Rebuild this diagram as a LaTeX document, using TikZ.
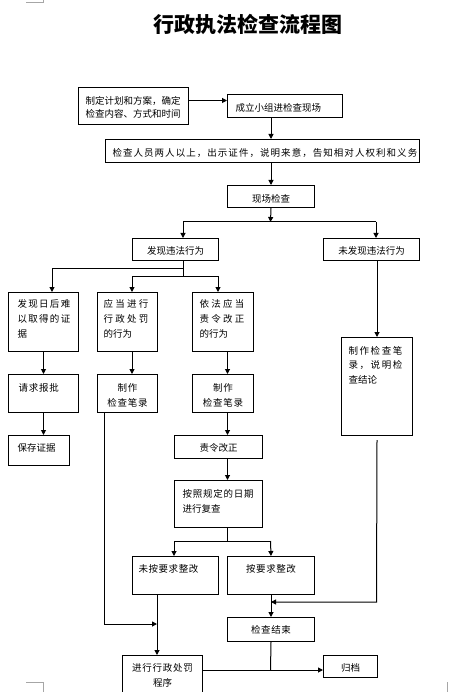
\documentclass[tikz,border=0pt]{standalone}
\usepackage{fontspec}
\setmainfont{Noto Sans CJK SC}
\usetikzlibrary{arrows.meta}
\newcommand\widetxt[2][14]{{\addfontfeatures{LetterSpace=#1}#2}}
\begin{document}
\begin{tikzpicture}[x=1pt,y=-1pt]
        % Styles
        \tikzstyle{box}=[draw,line width=1pt,inner ysep=0pt,anchor=north west,font=\fontsize{9.5}{15}\selectfont]
        \tikzstyle{arr}=[line width=1pt,-{Triangle[length=5pt,width=5pt]}]
        \tikzstyle{line}=[line width=1pt]
        \tikzstyle{pagemark}=[gray!70,line width=0.7pt]
        \useasboundingbox (0,0) rectangle (448,692);
        \clip (0,0) rectangle (448,692);
        %page marks
        \draw[pagemark] (26,2) -- (43,2) -- (43,0);
        \draw[pagemark] (26,682) -- (43,682) -- (43,692);
        \draw[pagemark] (447,682) -- (447,692);
        %title
        \node[font=\fontsize{21}{21}\bfseries] (title) at (247.5,24) {行政执法检查流程图};
        %boxes
        \node[box,align=left,inner xsep=7pt,text width=96pt,text height=16.6pt,text depth=20.4pt] (plan) at (78,87) {制定计划和方案，确定\\[-2pt]检查内容、方式和时间};
        \node[box,align=left,inner xsep=8pt,text width=99pt,text height=16.6pt,text depth=6.4pt] (team) at (227,94) {成立小组进检查现场};
        \node[box,align=left,inner xsep=7pt,text width=300pt,text height=16.6pt,text depth=6.4pt] (staff) at (105,139) {\widetxt[11]{检查人员两人以上，出示证件，说明来意，告知相对人权利和义务}};
        \node[box,align=center,inner xsep=4pt,text width=79pt,text height=16.6pt,text depth=5.4pt] (check) at (227,185) {现场检查};
        \node[box,align=center,inner xsep=4pt,text width=78pt,text height=16.3pt,text depth=5.7pt] (found) at (132,238) {发现违法行为};
        \node[box,align=center,inner xsep=4pt,text width=88pt,text height=16.3pt,text depth=5.7pt] (nfound) at (323,238) {未发现违法行为};
        \node[box,align=left,inner xsep=9pt,text width=52pt,text height=14.6pt,text depth=44.4pt] (hard) at (8,292) {\widetxt{发现日后难}\\\widetxt{以取得的证}\\据};
        \node[box,align=left,inner xsep=6pt,text width=48pt,text height=14.6pt,text depth=44.4pt] (punish) at (97,292) {\widetxt[24]{应当进行}\\\widetxt[24]{行政处罚}\\的行为};
        \node[box,align=left,inner xsep=7pt,text width=47pt,text height=14.6pt,text depth=44.4pt] (correct) at (192,292) {\widetxt[24]{依法应当}\\\widetxt[24]{责令改正}\\的行为};
        \node[box,align=left,inner xsep=10pt,text width=50pt,text height=16.6pt,text depth=21.4pt] (report) at (8,374) {\widetxt[8]{请求报批}};
        \node[box,align=center,inner xsep=3pt,text width=54pt,text height=16.6pt,text depth=21.4pt] (recA) at (97,374) {\widetxt[8]{制作}\\\widetxt[8]{检查笔录}};
        \node[box,align=center,inner xsep=3pt,text width=55pt,text height=16.6pt,text depth=21.4pt] (recB) at (192,374) {\widetxt[8]{制作}\\\widetxt[8]{检查笔录}};
        \node[box,align=left,inner xsep=9pt,text width=43pt,text height=15.6pt,text depth=14.4pt] (keep) at (8,435) {保存证据};
        \node[box,align=center,inner xsep=4pt,text width=80pt,text height=15.6pt,text depth=7.4pt] (order) at (174,435) {责令改正};
        \node[box,align=left,inner xsep=7pt,text width=57pt,text height=16.6pt,text depth=81.4pt] (concl) at (341,337) {\widetxt[17]{制作检查笔}\\[-0.5pt]\widetxt[17]{录，说明检}\\[-0.5pt]查结论};
        \node[box,align=left,inner xsep=8pt,text width=72pt,text height=16.6pt,text depth=30.4pt] (recheck) at (174,480) {\widetxt[8]{按照规定的日期}\\进行复查};
        \node[box,align=left,inner xsep=6pt,text width=74pt,text height=15.6pt,text depth=22.4pt] (notfix) at (132,556) {\widetxt[6]{未按要求整改}};
        \node[box,align=center,inner xsep=4pt,text width=79pt,text height=15.6pt,text depth=22.4pt] (fixed) at (227,556) {\widetxt[6]{按要求整改}};
        \node[box,align=center,inner xsep=4pt,text width=79pt,text height=15.6pt,text depth=8.4pt] (endchk) at (227,617) {\widetxt[6]{检查结束}};
        \node[box,align=center,inner xsep=4pt,text width=72pt,text height=15.6pt,text depth=34.4pt] (proc) at (122,655) {\widetxt[8]{进行行政处罚}\\程序};
        \node[box,align=center,inner xsep=4pt,text width=46pt,text height=15.6pt,text depth=6.4pt] (archive) at (323,655) {归档};
        %junctions
        \coordinate (fork) at (270.5,222);
        \coordinate (fl) at (183,222);
        \coordinate (fr) at (376,222);
        \coordinate (g1) at (183,268);
        \coordinate (g2) at (183,276);
        \coordinate (h1) at (52,268);
        \coordinate (h2) at (132,276);
        \coordinate (h3) at (218,276);
        \coordinate (k1) at (174,541);
        \coordinate (k2) at (270.5,541);
        \coordinate (m1) at (157,624);
        \coordinate (n1) at (376.5,602);
        \coordinate (e1) at (270.5,670);
        %connectors
        \draw[arr] ([yshift=5.5pt]plan.east) -- ([yshift=5.5pt]team.west);
        \draw[arr] (check.north |- team.south) -- (check.north |- staff.north);
        \draw[arr] (check.north |- staff.south) -- (check.north);
        \draw[arr] (check.south) -- (fork);
        \draw[line] (fl) -- (fr);
        \draw[arr] (fl) -- (fl |- found.north);
        \draw[arr] (fr) -- (fr |- nfound.north);
        \draw[line] (fl |- found.south) -- (g2);
        \draw[arr] (g1) -- (h1) -- (h1 |- hard.north);
        \draw[line] (h2) -- (h3);
        \draw[arr] (h2) -- (h2 |- punish.north);
        \draw[arr] (h3) -- (h3 |- correct.north);
        \draw[arr] (hard.south) -- (report.north);
        \draw[arr] (report.south) -- (report.south |- keep.north);
        \draw[arr] (h2 |- punish.south) -- (h2 |- recA.north);
        \draw[arr] ([xshift=4.5pt]correct.south) -- ([xshift=4.5pt]recB.north);
        \draw[arr] ([xshift=4.5pt]recB.south) -- ([xshift=4.5pt]recB.south |- order.north);
        \draw[arr] ([xshift=9pt]order.south) -- ([xshift=9pt]recheck.north);
        \draw[line] ([xshift=9pt]recheck.south) -- ([xshift=9pt]recheck.south |- k1);
        \draw[line] (k1) -- (k2);
        \draw[arr] (k1) -- (k1 |- notfix.north);
        \draw[arr] (k2) -- (fixed.north);
        \draw[arr] (m1 |- notfix.south) -- (m1 |- proc.north);
        \draw[arr] ([xshift=-23pt]recA.south) -- ([xshift=-23pt]recA.south |- m1) -- (m1);
        \draw[arr] (fixed.south) -- (endchk.north);
        \draw[arr] (concl.north |- nfound.south) -- (concl.north);
        \draw[arr] ([yshift=-4pt]concl.south) -- (n1) -- (n1 -| fixed.south);
        \draw[line] (endchk.south) -- (e1);
        \draw[arr] (proc.east |- e1) -- (archive.west |- e1);
\end{tikzpicture}
\end{document}
